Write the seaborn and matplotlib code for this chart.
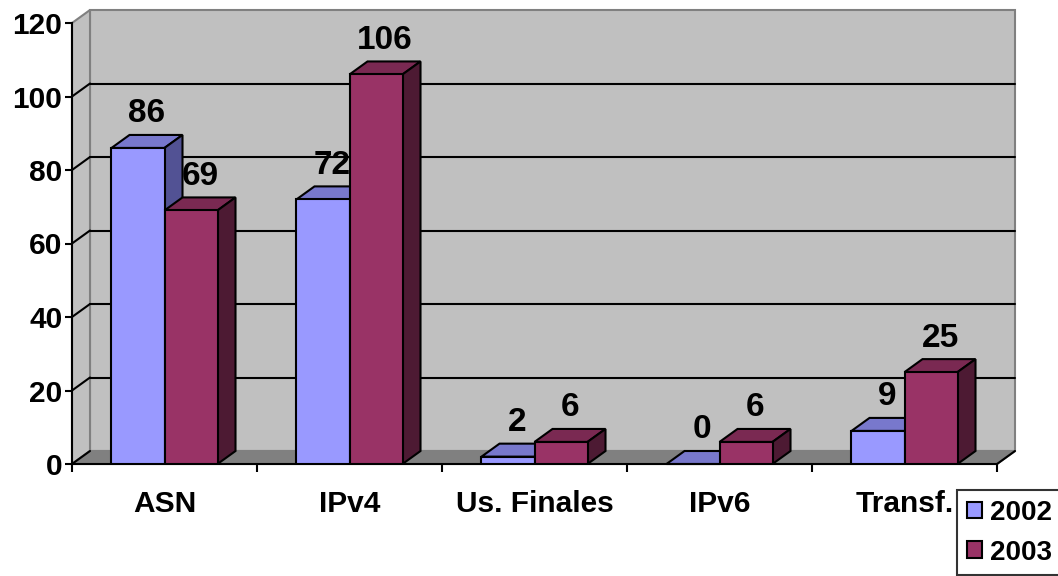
import matplotlib
matplotlib.use("Agg")
import matplotlib.pyplot as plt
import numpy as np
import pandas as pd
import seaborn as sns
from matplotlib.patches import Polygon, Rectangle, Patch

categorias = ["ASN", "IPv4", "Us. Finales", "IPv6", "Transf."]
valores_2002 = [86, 72, 2, 0, 9]
valores_2003 = [69, 106, 6, 6, 25]
anios = ["2002", "2003"]
yticks = [0, 20, 40, 60, 80, 100, 120]

colores = {"2002": "#9999FF", "2003": "#993366"}
tapas = {"2002": "#7878CC", "2003": "#7A2952"}
lados = {"2002": "#525294", "2003": "#4D1A33"}

df = pd.DataFrame({
    "cat": categorias * 2,
    "val": valores_2002 + valores_2003,
    "anio": [anios[0]] * 5 + [anios[1]] * 5,
})

sns.set_style("white")
plt.rcParams["font.family"] = ["Liberation Sans", "DejaVu Sans"]
plt.rcParams["font.weight"] = "bold"
plt.rcParams["text.color"] = "black"
plt.rcParams["xtick.color"] = "black"
plt.rcParams["ytick.color"] = "black"
plt.rcParams["axes.edgecolor"] = "black"

fig = plt.figure(figsize=(10.58, 5.76), dpi=100)
ax = fig.add_axes([72 / 1058, 112 / 576, 925 / 1058, 441 / 576])

# profundidad del efecto 3D (en unidades de datos)
ddx = 18 / 185
ddy = 13 / 3.675

sns.barplot(data=df, x="cat", y="val", hue="anio", palette=colores,
            width=0.573, edgecolor="black", linewidth=1.5, legend=False,
            ax=ax, saturation=1)

# barras por año, antes de añadir otras formas
barras = []
for anio, cont in zip(anios, ax.containers):
    for b in cont:
        barras.append((b, anio))
barras.sort(key=lambda t: t[0].get_x())

ax.set_xlim(-0.5, 4.5)
ax.set_ylim(0, 120)

# paredes y suelo
x0, x1 = -0.5, 4.5
ax.add_patch(Rectangle((x0 + ddx, ddy), x1 - x0, 120, facecolor="#C0C0C0",
                       edgecolor="#808080", lw=1.5, zorder=0.5, clip_on=False))
ax.add_patch(Polygon([(x0, 0), (x0, 120), (x0 + ddx, 120 + ddy), (x0 + ddx, ddy)],
                     closed=True, facecolor="#C0C0C0", edgecolor="#808080",
                     lw=1.5, zorder=0.6, clip_on=False))
ax.add_patch(Polygon([(x0, 0), (x1, 0), (x1 + ddx, ddy), (x0 + ddx, ddy)],
                     closed=True, facecolor="#808080", edgecolor="#808080",
                     lw=1.5, zorder=0.6, clip_on=False))
ax.plot([x1, x1 + ddx], [0, ddy], color="black", lw=1.5, zorder=0.8, clip_on=False)
ax.plot([x0, x0 + ddx], [0, ddy], color="black", lw=1.5, zorder=0.8, clip_on=False)

for yv in yticks[1:-1]:
    ax.plot([x0 + ddx, x1 + ddx], [yv + ddy, yv + ddy], color="black", lw=1.5,
            zorder=0.7, clip_on=False)
    ax.plot([x0, x0 + ddx], [yv, yv + ddy], color="black", lw=1.5,
            zorder=0.7, clip_on=False)

# caras 3D de las barras
for i, (b, anio) in enumerate(barras):
    x, w, h = b.get_x(), b.get_width(), b.get_height()
    z = 2 + i * 0.1
    b.set_zorder(z + 0.02)
    ax.add_patch(Polygon([(x, h), (x + w, h), (x + w + ddx, h + ddy), (x + ddx, h + ddy)],
                         closed=True, facecolor=tapas[anio], edgecolor="black",
                         lw=1.5, zorder=z, clip_on=False))
    ax.add_patch(Polygon([(x + w, 0), (x + w, h), (x + w + ddx, h + ddy), (x + w + ddx, ddy)],
                         closed=True, facecolor=lados[anio], edgecolor="black",
                         lw=1.5, zorder=z + 0.01, clip_on=False))
    ax.annotate(f"{int(round(h))}", (x + w / 2 + ddx / 2, h + ddy),
                xytext=(0, 4), textcoords="offset points", ha="center",
                va="bottom", fontsize=24, fontweight="bold", zorder=10,
                annotation_clip=False)

# ejes
for s in ["top", "right"]:
    ax.spines[s].set_visible(False)
ax.spines["left"].set_linewidth(1.5)
ax.spines["bottom"].set_linewidth(1.5)
ax.spines["left"].set_zorder(1)
ax.spines["bottom"].set_zorder(1)

ax.set_yticks(yticks)
ax.tick_params(axis="y", length=5, width=1.5, pad=2, labelsize=21.5, direction="out", left=True)
ax.set_xticks(range(5))
ax.set_xticklabels(categorias)
ax.set_xticks(np.arange(-0.5, 5, 1), minor=True)
ax.tick_params(axis="x", which="major", length=0, pad=19, labelsize=21.5)
ax.tick_params(axis="x", which="minor", length=6, width=1.5, direction="out", bottom=True)
for t in ax.get_xticklabels() + ax.get_yticklabels():
    t.set_fontweight("bold")
ax.set_xlabel("")
ax.set_ylabel("")
ax.grid(False)

handles = [Patch(facecolor=colores[a], edgecolor="black", lw=1.5, label=a) for a in anios]
leg = fig.legend(handles=handles, loc="upper left",
                 bbox_to_anchor=(957 / 1058, 1 - 490 / 576),
                 fancybox=False, frameon=True, prop={"weight": "bold", "size": 20},
                 handlelength=0.55, handleheight=0.55, handletextpad=0.3,
                 labelspacing=0.5, borderpad=0.35, borderaxespad=0)
leg.get_frame().set_edgecolor("black")
leg.get_frame().set_linewidth(1.5)

fig.savefig("out.png", dpi=100)
